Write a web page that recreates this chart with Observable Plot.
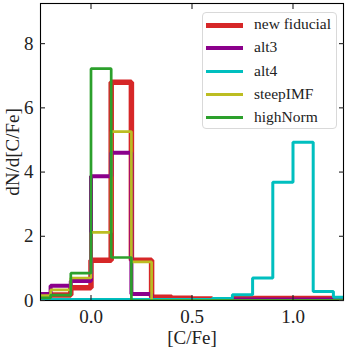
<!DOCTYPE html>
<html><head><meta charset="utf-8">
<script src="https://cdn.jsdelivr.net/npm/d3@7"></script>
<script src="https://cdn.jsdelivr.net/npm/@observablehq/plot@0.6"></script>
<style>
body{margin:0;background:#fff;}
#wrap{position:relative;width:349px;height:349px;font-family:"Liberation Serif",serif;}
.legend{position:absolute;left:202px;top:12px;width:135px;height:117px;border:1px solid #d9d9d9;border-radius:4px;background:rgba(255,255,255,0.8);box-sizing:border-box;}
.item{position:absolute;left:0;width:100%;height:0;}
.sw{position:absolute;left:3px;width:37px;}
.lab{position:absolute;left:51px;top:0;font-size:15.5px;line-height:1;transform:translateY(-58%);white-space:nowrap;color:#222;}
</style></head>
<body><div id="wrap"></div>
<script>
// bin left edges of [C/Fe], bin width 0.1
const binLeft = [-0.3,-0.2,-0.1,0.0,0.1,0.2,0.3,0.4,0.5,0.6,0.7,0.8,0.9,1.0,1.1,1.2];
const binWidth = 0.1;
const seriesNames = ["new fiducial","alt3","alt4","steepIMF","highNorm"];
const newFiducial = [0.12,0.17,0.40,1.25,6.80,1.25,0.10,0.07,0.05,0.0,0.06,0.06,0.06,0.06,0.06,0.0];
const alt3        = [0.20,0.46,0.61,3.87,4.60,0.20,0.0,0.0,0.0,0.0,0.03,0.03,0.03,0.03,0.03,0.0];
const alt4        = [0.03,0.03,0.03,0.03,0.03,0.03,0.03,0.03,0.03,0.06,0.18,0.70,3.68,4.93,0.28,0.10];
const steepIMF    = [0.15,0.33,0.70,2.12,5.26,1.20,0.0,0.0,0.0,0.0,0.0,0.0,0.0,0.0,0.0,0.0];
const highNorm    = [0.08,0.17,0.85,7.22,1.34,0.0,0.0,0.0,0.0,0.0,0.0,0.0,0.0,0.0,0.0,0.0];
const xTicks = [0.0,0.5,1.0];
const yTicks = [0,2,4,6,8];
const xLabel = "[C/Fe]";
const yLabel = "dN/d[C/Fe]";

const values = [newFiducial, alt3, alt4, steepIMF, highNorm];
const colors = ["#d62728","#8b008b","#00bfbf","#bcbd22","#2ca02c"];
const widths = [5.5,4,3,2.7,2.7];

function stepPoints(vals){
  const pts = [{x: binLeft[0], y: 0}];
  vals.forEach((v,i)=>{
    pts.push({x: binLeft[i], y: v});
    pts.push({x: binLeft[i] + binWidth, y: v});
  });
  pts.push({x: binLeft[binLeft.length-1] + binWidth, y: 0});
  return pts;
}

const lines = values.map((vals,i)=>Plot.line(stepPoints(vals), {x:"x", y:"y", stroke: colors[i], strokeWidth: widths[i], clip: true, strokeLinejoin:"miter", strokeLinecap:"butt"}));

const fmt = d3.format(".1f");
const chart = Plot.plot({
  width: 349, height: 349,
  marginLeft: 40, marginRight: 6, marginTop: 3, marginBottom: 49,
  style: {fontFamily: '"Liberation Serif", serif', fontSize: "19px", color: "#222", background: "transparent"},
  x: {domain: [-0.25, 1.25]},
  y: {domain: [0, 9.25]},
  marks: [
    ...lines,
    Plot.frame({stroke: "black", strokeWidth: 1.1}),
    Plot.axisX({anchor: "bottom", ticks: xTicks, tickSize: 0, tickPadding: 9, tickFormat: fmt, fontSize: 19, label: xLabel, labelAnchor: "center", labelArrow: "none", labelOffset: 43}),
    Plot.axisX({anchor: "bottom", ticks: xTicks, tickSize: -5, tickFormat: () => "", label: null, strokeWidth: 1.1}),
    Plot.axisX({anchor: "top", ticks: xTicks, tickSize: -5, tickFormat: () => "", label: null, strokeWidth: 1.1}),
    Plot.axisY({anchor: "left", ticks: yTicks, tickSize: 0, tickPadding: 7, tickFormat: d3.format("d"), fontSize: 19, label: yLabel, labelAnchor: "center", labelArrow: "none", labelOffset: 35}),
    Plot.axisY({anchor: "left", ticks: yTicks, tickSize: -5, tickFormat: () => "", label: null, strokeWidth: 1.1}),
    Plot.axisY({anchor: "right", ticks: yTicks, tickSize: -5, tickFormat: () => "", label: null, strokeWidth: 1.1})
  ]
});
const wrap = document.getElementById("wrap");
wrap.appendChild(chart);

const legend = document.createElement("div");
legend.className = "legend";
seriesNames.forEach((name,i)=>{
  const item = document.createElement("div");
  item.className = "item";
  item.style.top = (12.3 + i*23.1) + "px";
  const sw = document.createElement("div");
  sw.className = "sw";
  sw.style.height = widths[i] + "px";
  sw.style.top = (-widths[i]/2) + "px";
  sw.style.background = colors[i];
  const lab = document.createElement("div");
  lab.className = "lab";
  lab.textContent = name;
  item.appendChild(sw); item.appendChild(lab);
  legend.appendChild(item);
});
wrap.appendChild(legend);
</script></body></html>
